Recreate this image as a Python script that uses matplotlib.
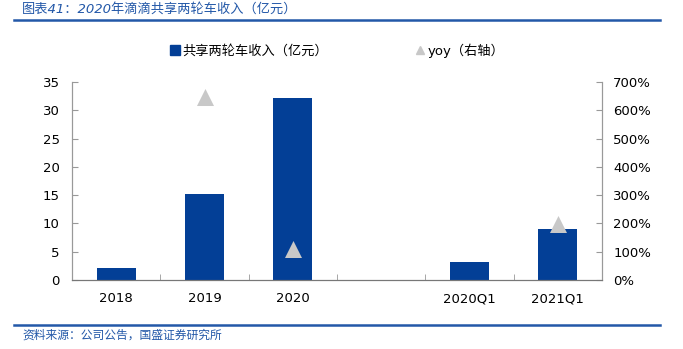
import matplotlib
matplotlib.use('Agg')
import matplotlib.pyplot as plt
from matplotlib.ticker import FuncFormatter

plt.rcParams['font.family'] = ['DejaVu Sans', 'Noto Sans CJK SC']

# data
categories = ['2018', '2019', '2020', '', '2020Q1', '2021Q1']
revenue = [2.1, 15.2, 32.2, None, 3.1, 9.1]
yoy = [None, 6.48, 1.10, None, None, 1.98]

bar_color = '#033F96'
tri_color = '#C8C8C8'
blue_line = '#2358A8'

fig = plt.figure(figsize=(6.83, 3.49), dpi=100)
ax = fig.add_axes([72/683, 1-280/349, 530/683, 198/349])
ax2 = ax.twinx()

xs = list(range(len(categories)))
bx = [x for x, v in zip(xs, revenue) if v is not None]
bv = [v for v in revenue if v is not None]
bars = ax.bar(bx, bv, width=0.44, color=bar_color, label='共享两轮车收入（亿元）', zorder=2)

tx = [x for x, v in zip(xs, yoy) if v is not None]
tv = [v for v in yoy if v is not None]
ax2.scatter(tx, tv, marker='^', s=150, color=tri_color, zorder=3, linewidths=0)

ax.set_xlim(-0.5, len(categories) - 0.5)
ax.set_ylim(0, 35)
ax.set_yticks(range(0, 36, 5))
ax2.set_ylim(0, 7)
ax2.set_yticks([i for i in range(8)])
ax2.yaxis.set_major_formatter(FuncFormatter(lambda v, p: f'{int(round(v*100))}%'))

ax.set_xticks(xs)
ax.set_xticklabels(categories)
ax.set_xticks([x + 0.5 for x in xs[:-1]], minor=True)
ax.tick_params(axis='x', which='major', length=0, pad=9, labelsize=9.5)
ax.tick_params(axis='x', which='minor', length=4, direction='in', color='#999999')
ax.tick_params(axis='y', direction='in', length=4, pad=9, labelsize=9.5, color='#999999')
ax2.tick_params(axis='y', direction='in', length=4, pad=8, labelsize=9.5, color='#999999')

for a in (ax, ax2):
    a.spines['top'].set_visible(False)
    a.spines['left'].set_color('#999999')
    a.spines['right'].set_color('#999999')
    a.spines['bottom'].set_color('#777777')

h1 = plt.Rectangle((0, 0), 1, 1, color=bar_color)
h2 = plt.Line2D([], [], marker='^', linestyle='', color=tri_color, markersize=6)
ax.legend([h1, h2], ['共享两轮车收入（亿元）', 'yoy（右轴）'], ncol=2, frameon=False,
          loc='center', bbox_to_anchor=(0.5, 1.16), fontsize=9.5,
          columnspacing=6.5, handlelength=0.8, handletextpad=0.2)

# header / footer
fig.text(22/683, 1-9/349, '图表41：2020年滴滴共享两轮车收入（亿元）', color=blue_line,
         fontsize=9.5, style='italic', va='center', ha='left')
fig.add_artist(plt.Line2D([14/683, 660/683], [1-20/349, 1-20/349], color=blue_line, lw=1.8))
fig.add_artist(plt.Line2D([14/683, 660/683], [1-325/349, 1-325/349], color=blue_line, lw=1.8))
fig.text(22/683, 1-335/349, '资料来源：公司公告，国盛证券研究所', color=blue_line,
         fontsize=8.5, style='italic', va='center', ha='left')

fig.savefig('out.png', dpi=100)
